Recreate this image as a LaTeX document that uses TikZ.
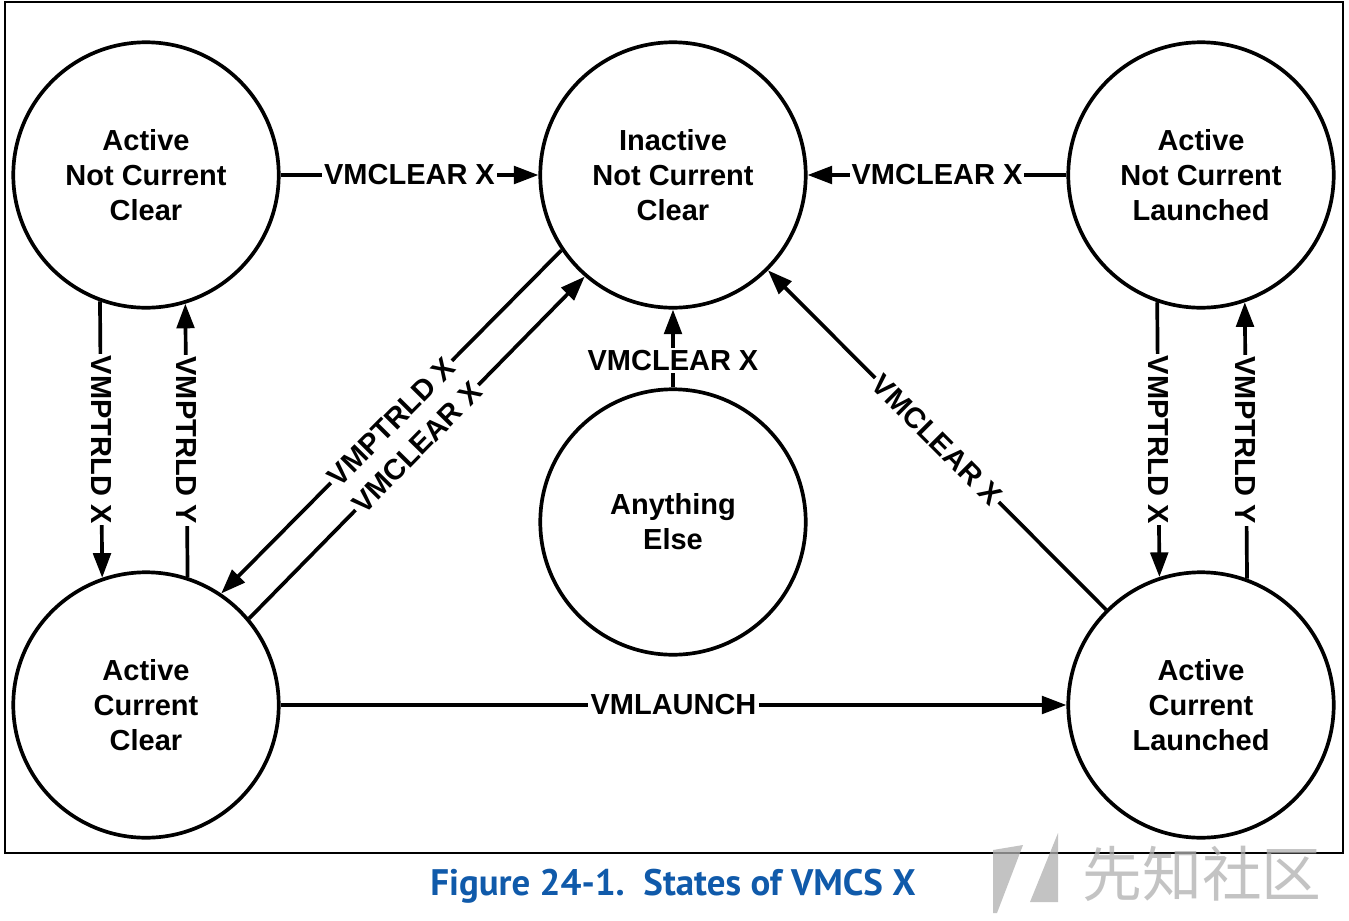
\documentclass[tikz,border=0pt]{standalone}
\usepackage{fontspec}
\setmainfont{Liberation Sans}
\newfontfamily\capfont{PT Sans}
\newfontfamily\cjkfont{Noto Sans CJK SC}
\usetikzlibrary{arrows.meta}
\definecolor{capblue}{RGB}{16,90,170}
\definecolor{wmgray}{RGB}{175,175,175}
\begin{document}
\begin{tikzpicture}[x=0.02cm,y=-0.02cm,
  state/.style={circle,draw,line width=2.1pt,minimum size=5.31cm,inner sep=0pt,align=center,
    font=\fontsize{16.5}{19.8}\selectfont\bfseries},
  conn/.style={line width=2.1pt},
  arr/.style={conn,-{Triangle[length=14pt,width=10pt]}},
  lbl/.style={fill=white,inner sep=1.2pt,font=\fontsize{16.5}{19.8}\selectfont\bfseries},
  wm/.style={fill=wmgray,fill opacity=0.75,draw=none}]
\useasboundingbox (0,0) rectangle (1349,920);
\fill[white] (0,0) rectangle (1349,920);
\draw[line width=1.2pt] (5,2) rectangle (1343,853);

\node[state] (ancc) at (146,175) {Active\\Not Current\\Clear};
\node[state] (incc) at (673,175) {Inactive\\Not Current\\Clear};
\node[state] (ancl) at (1201,175) {Active\\Not Current\\Launched};
\node[state] (acc)  at (146,705) {Active\\Current\\Clear};
\node[state] (acl)  at (1201,705) {Active\\Current\\Launched};
\node[state] (ae)   at (673,522) {Anything\\Else};

\draw[arr] (ancc) -- node[lbl]{VMCLEAR X} (incc);
\draw[arr] (ancl) -- node[lbl]{VMCLEAR X} (incc);
\draw[arr] (ae) -- node[lbl,pos=0.35]{VMCLEAR X} (incc);

\draw[arr] (ancc.250.4) -- node[lbl,rotate=-90]{VMPTRLD X} (acc.109.6);
\draw[arr] (acc.72.2) -- node[lbl,rotate=-90]{VMPTRLD Y} (ancc.287.8);
\draw[arr] (ancl.251.3) -- node[lbl,rotate=-90]{VMPTRLD X} (acl.108.7);
\draw[arr] (acl.70.9) -- node[lbl,rotate=-90]{VMPTRLD Y} (ancl.289.1);

\draw[arr] (incc.214) -- node[lbl,sloped]{VMPTRLD X} (acc.56);
\draw[arr] (acc.40) -- node[lbl,sloped]{VMCLEAR X} (incc.229);
\draw[arr] (acl) -- node[lbl,sloped]{VMCLEAR X} (incc);
\draw[arr] (acc) -- node[lbl]{VMLAUNCH} (acl);

\node[font=\capfont\bfseries\fontsize{21}{25}\selectfont,text=capblue] (cap) at (673,886) {Figure 24-1.\ \ States of VMCS X};

\fill[wm] (993,850) -- (1023,845) -- (997,913) -- (993,913) -- cycle;
\fill[wm] (1030,902) -- (1058,833) -- (1058,902) -- cycle;
\node[font=\cjkfont\fontsize{34}{40}\selectfont,text=wmgray,text opacity=0.75] (wmtext) at (1202,874) {先知社区};
\end{tikzpicture}
\end{document}
